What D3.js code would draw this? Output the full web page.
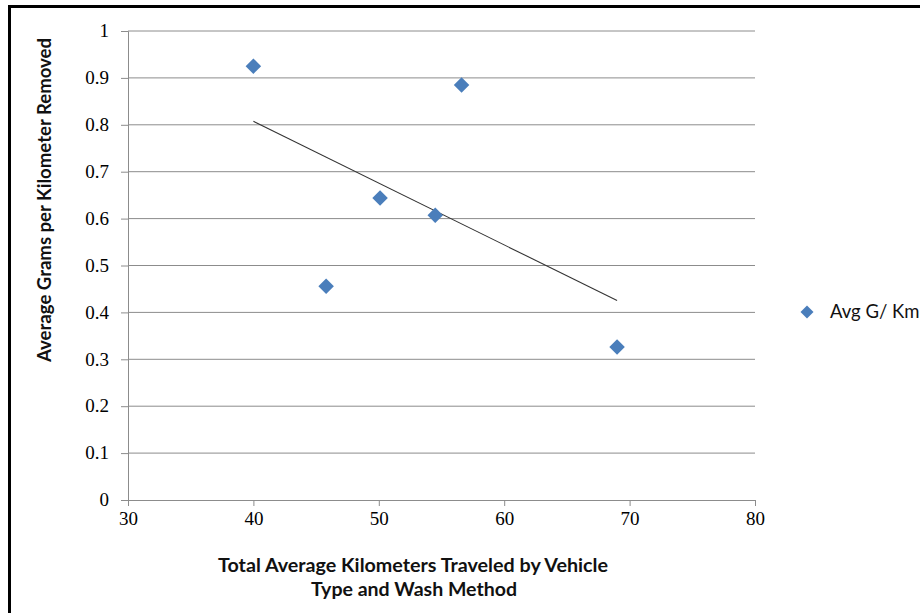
<!DOCTYPE html>
<html>
<head>
<meta charset="utf-8">
<script src="https://cdn.jsdelivr.net/npm/d3@7"></script>
<style>
  body { margin: 0; background: #fff; }
  .tick text { font-family: "Liberation Serif", "DejaVu Serif", serif; font-size: 19px; fill: #000; }
  .title { font-family: Lato, "Open Sans", sans-serif; font-weight: bold; font-size: 19px; fill: #111; }
</style>
</head>
<body>
<div id="chart"></div>
<script>
// values
let kmTravelled = [40.0, 56.6, 50.1, 54.5, 45.8, 69.0];
let gramsPerKm = [0.925, 0.885, 0.644, 0.607, 0.456, 0.326];
let xTicks = [30, 40, 50, 60, 70, 80];
let yTicks = [0, 0.1, 0.2, 0.3, 0.4, 0.5, 0.6, 0.7, 0.8, 0.9, 1];
let seriesName = "Avg G/ Km";

let data = kmTravelled.map(function (k, i) {
  return {x: k, y: gramsPerKm[i]};
});

let margin = {top: 31, left: 128},
  width = 627,
  height = 469;

let svg = d3.select("#chart").append("svg")
  .attr("width", 920)
  .attr("height", 613);

// frame (cropped: only top and left edges visible)
svg.append("path")
  .attr("d", "M9.5,613 V6.5 H920")
  .attr("fill", "none")
  .attr("stroke", "#000")
  .attr("stroke-width", 3);

let g = svg.append("g")
  .attr("transform", "translate(" + margin.left + "," + margin.top + ")");

let x = d3.scaleLinear()
  .domain([30, 80])
  .range([0, width]);

let y = d3.scaleLinear()
  .domain([0, 1])
  .range([height, 0]);

// gridlines
g.append("g")
  .selectAll("line")
  .data(yTicks.slice(1))
  .enter().append("line")
  .attr("x1", 0)
  .attr("x2", width)
  .attr("y1", function (d) { return y(d); })
  .attr("y2", function (d) { return y(d); })
  .attr("stroke", "#8c8c8c")
  .attr("stroke-width", 1);

let xAxis = g.append("g")
  .attr("transform", "translate(0," + height + ")")
  .call(d3.axisBottom(x).tickValues(xTicks).tickSize(6).tickPadding(6).tickFormat(d3.format("d")));

let yAxis = g.append("g")
  .call(d3.axisLeft(y).tickValues(yTicks).tickSize(7).tickPadding(12).tickFormat(function (d) {
    return d === 0 || d === 1 ? d3.format("d")(d) : d3.format(".1f")(d);
  }));

[xAxis, yAxis].forEach(function (a) {
  a.select(".domain").attr("stroke", "#8c8c8c");
  a.selectAll(".tick line").attr("stroke", "#8c8c8c");
});
yAxis.selectAll(".tick text").attr("dy", "0.3em");

// linear trendline over data range
let mx = d3.mean(data, function (d) { return d.x; }),
  my = d3.mean(data, function (d) { return d.y; });
let slope = d3.sum(data, function (d) { return (d.x - mx) * (d.y - my); }) /
  d3.sum(data, function (d) { return (d.x - mx) * (d.x - mx); });
let ext = d3.extent(data, function (d) { return d.x; });
let trend = ext.map(function (v) { return {x: v, y: my + slope * (v - mx)}; });

g.append("path")
  .datum(trend)
  .attr("d", d3.line()
    .x(function (d) { return x(d.x); })
    .y(function (d) { return y(d.y); }))
  .attr("fill", "none")
  .attr("stroke", "#333")
  .attr("stroke-width", 1.1);

let diamond = d3.symbol().type(d3.symbolSquare).size(120);

g.selectAll(".dot")
  .data(data)
  .enter().append("path")
  .attr("class", "dot")
  .attr("d", diamond)
  .attr("transform", function (d) {
    return "translate(" + x(d.x) + "," + y(d.y) + ") rotate(45)";
  })
  .attr("fill", "#4a7ebb");

// axis titles
svg.append("text")
  .attr("class", "title")
  .attr("transform", "translate(51,200) rotate(-90)")
  .attr("text-anchor", "middle")
  .attr("textLength", 324)
  .attr("lengthAdjust", "spacingAndGlyphs")
  .text("Average Grams per Kilometer Removed");

let xt = svg.append("text")
  .attr("class", "title")
  .attr("text-anchor", "middle");
xt.append("tspan").attr("x", 413).attr("y", 572)
  .attr("textLength", 390).attr("lengthAdjust", "spacingAndGlyphs")
  .text("Total Average Kilometers Traveled by Vehicle");
xt.append("tspan").attr("x", 414).attr("y", 596)
  .attr("textLength", 206).attr("lengthAdjust", "spacingAndGlyphs")
  .text("Type and Wash Method");

// legend
let legend = svg.append("g").attr("transform", "translate(807,312)");
legend.append("path")
  .attr("d", d3.symbol().type(d3.symbolSquare).size(85))
  .attr("transform", "rotate(45)")
  .attr("fill", "#4a7ebb");
legend.append("text")
  .attr("x", 23)
  .attr("y", 6)
  .attr("font-family", "Lato, 'Open Sans', sans-serif")
  .attr("font-size", "18.5px")
  .attr("fill", "#111")
  .text(seriesName);
</script>
</body>
</html>
